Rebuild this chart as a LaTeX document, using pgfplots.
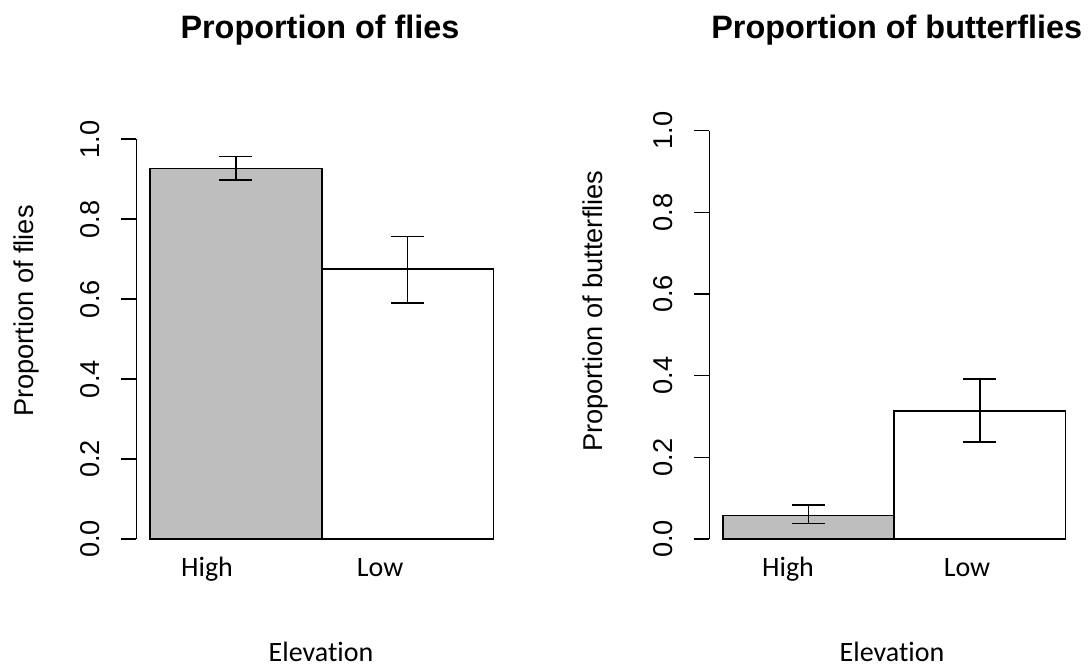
\documentclass[border=0pt]{standalone}
\usepackage{fontspec}
\setmainfont{Liberation Sans}[Ligatures=NoCommon]
\newfontfamily\calibri{Carlito}[Ligatures=NoCommon]
\usepackage{pgfplots}
\pgfplotsset{compat=1.18}
\definecolor{bargray}{RGB}{190,190,190}

\pgfplotsset{
  rpanel/.style={
    scale only axis,
    xmin=-0.08, xmax=2.08, ymin=0, ymax=1,
    axis lines=left,
    axis line style={-, line width=1.6pt, black},
    x axis line style={draw=none},
    tick align=outside,
    major tick length=15.5pt,
    ytick={0,0.2,0.4,0.6,0.8,1},
    yticklabels={0.0,0.2,0.4,0.6,0.8,1.0},
    y tick style={black, line width=1.6pt},
    x tick style={draw=none},
    yticklabel style={font=\fontsize{27.2}{30}\selectfont, xshift=-21pt, rotate=90, anchor=base, inner sep=0pt},
    xticklabel style={font=\calibri\fontsize{28}{32}\selectfont, yshift=-22pt, anchor=base, inner sep=0pt},
    xticklabels={High,Low},
    clip=false,
  },
  rbar/.style={ybar, bar width=1, bar shift=0pt, draw=black, line width=1.6pt,
    error bars/y dir=both, error bars/y explicit,
    error bars/error bar style={line width=1.6pt, black},
    error bars/error mark options={rotate=90, mark size=16.5pt, line width=1.6pt, black}},
}

\begin{document}
\begin{tikzpicture}
\path[use as bounding box] (0,0) rectangle (1089pt,668pt);

\begin{axis}[rpanel,
  at={(136.3pt,129pt)}, anchor=south west,
  width=370.9pt, height=399.7pt,
  xtick={0.332,1.340},
  title={Proportion of flies},
  title style={at={(axis description cs:0.4953,1.251)}, yshift=-6pt, anchor=base, inner sep=0pt, font=\bfseries\fontsize{32.4}{36}\selectfont},
  xlabel={Elevation},
  xlabel style={at={(axis description cs:0.498,-0.3077)}, anchor=base, inner sep=0pt, font=\calibri\fontsize{28}{32}\selectfont},
  ylabel={Proportion of flies},
  ylabel style={at={(axis description cs:-0.2785,0.570)}, anchor=base, inner sep=0pt, font=\fontsize{27.2}{30}\selectfont},
]
\addplot[rbar, fill=bargray] coordinates {(0.5,0.927) += (0,0.030) -= (0,0.029)};
\addplot[rbar, fill=white] coordinates {(1.5,0.676) += (0,0.081) -= (0,0.085)};
\end{axis}

\begin{axis}[rpanel,
  at={(709.3pt,129pt)}, anchor=south west,
  width=369.8pt, height=408.3pt,
  xtick={0.380,1.425},
  title={Proportion of butterflies},
  title style={at={(axis description cs:0.5068,1.2246)}, yshift=-6pt, anchor=base, inner sep=0pt, font=\bfseries\fontsize{32.4}{36}\selectfont},
  xlabel={Elevation},
  xlabel style={at={(axis description cs:0.494,-0.3012)}, anchor=base, inner sep=0pt, font=\calibri\fontsize{28}{32}\selectfont},
  ylabel={Proportion of butterflies},
  ylabel style={at={(axis description cs:-0.2875,0.558)}, anchor=base, inner sep=0pt, font=\fontsize{27.2}{30}\selectfont},
]
\addplot[rbar, fill=bargray] coordinates {(0.5,0.058) += (0,0.025) -= (0,0.0205)};
\addplot[rbar, fill=white] coordinates {(1.5,0.313) += (0,0.079) -= (0,0.075)};
\end{axis}
\end{tikzpicture}
\end{document}
